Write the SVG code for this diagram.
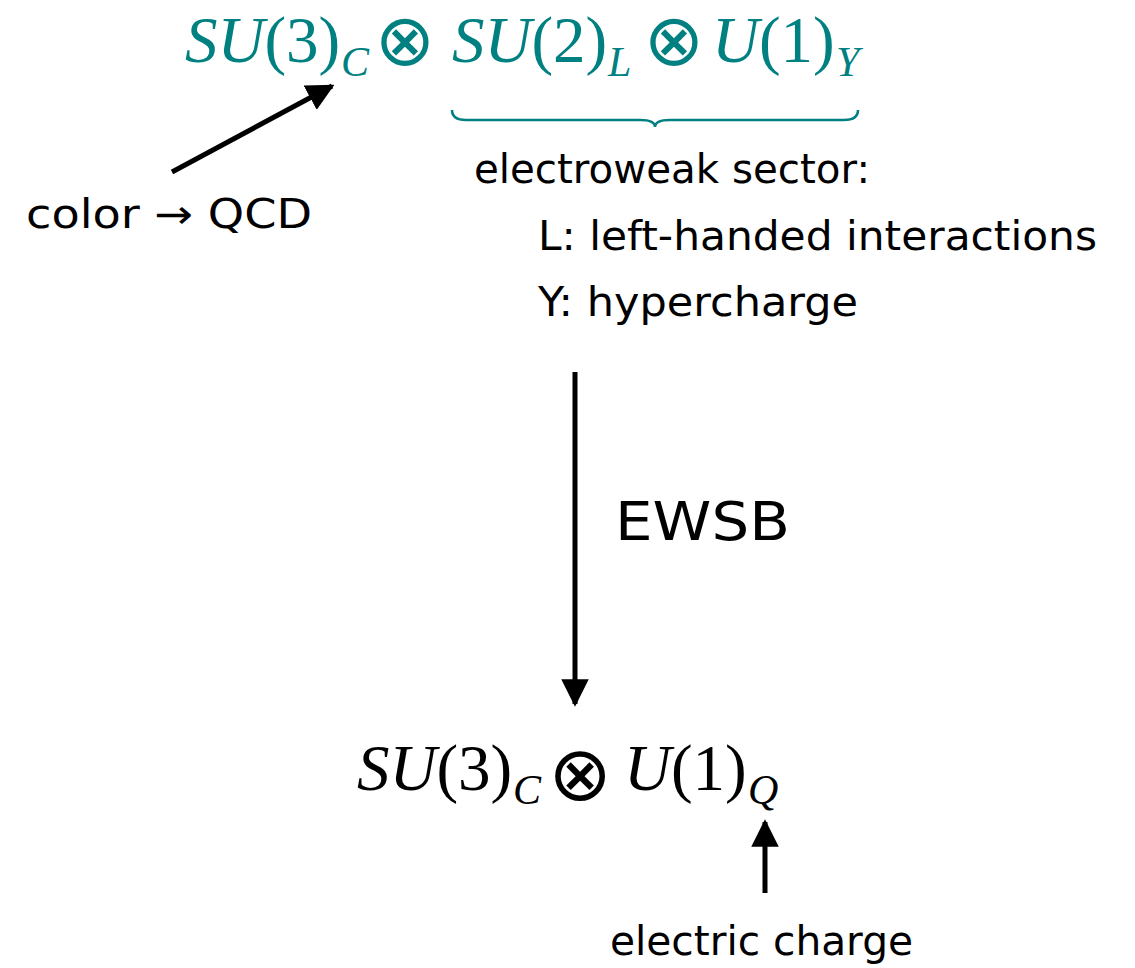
<svg xmlns="http://www.w3.org/2000/svg" width="1135" height="968" viewBox="0 0 1135 968">
<style>
.m{font-family:"Liberation Serif","Times New Roman",serif;}
.i{font-style:italic;}
.o{font-family:"DejaVu Sans",sans-serif;text-anchor:middle;}
.teal{fill:#008080;}
.blk{fill:#000;}
.s{font-family:"DejaVu Sans","Liberation Sans",sans-serif;fill:#000;}
.ln{stroke:#000;stroke-width:5;fill:none;}
</style>
<defs>
<marker id="ah" viewBox="0 0 10 10" refX="9" refY="5" markerWidth="5.5" markerHeight="5.5" markerUnits="strokeWidth" orient="auto">
<path d="M0,0 L10,5 L0,10 z" fill="#000"/>
</marker>
</defs>
<g id="top-formula" class="m teal">
<text x="185" y="62" font-size="65"><tspan class="i">SU</tspan>(3)</text>
<text x="341" y="76" font-size="42" class="i">C</text>
<text class="o" x="405" y="65" font-size="72">⊗</text>
<text x="452" y="62" font-size="65"><tspan class="i">SU</tspan>(2)</text>
<text x="608" y="76" font-size="42" class="i">L</text>
<text class="o" x="674" y="65" font-size="72">⊗</text>
<text x="712" y="62" font-size="65"><tspan class="i">U</tspan>(1)</text>
<text x="836" y="76" font-size="42" class="i">Y</text>
</g>
<g id="brace">
<path d="M452,110 Q452,120 466,120 L640,120 Q655,120 655,127 Q655,120 670,120 L844,120 Q858,120 858,110" stroke="#008080" stroke-width="2.5" fill="none"/>
</g>
<g id="color-label">
<text class="s" x="26" y="228" font-size="40" textLength="286" lengthAdjust="spacingAndGlyphs">color → QCD</text>
</g>
<g id="ew-label">
<text class="s" x="474" y="183" font-size="40" textLength="396" lengthAdjust="spacingAndGlyphs">electroweak sector:</text>
<text class="s" x="538" y="250" font-size="40" textLength="559" lengthAdjust="spacingAndGlyphs">L: left-handed interactions</text>
<text class="s" x="538" y="316" font-size="40" textLength="320" lengthAdjust="spacingAndGlyphs">Y: hypercharge</text>
</g>
<g id="ewsb-label">
<text class="s" x="615" y="540" font-size="54" textLength="175" lengthAdjust="spacingAndGlyphs">EWSB</text>
</g>
<g id="bottom-formula" class="m blk">
<text x="357" y="790" font-size="65"><tspan class="i">SU</tspan>(3)</text>
<text x="513" y="804" font-size="42" class="i">C</text>
<text class="o" x="580" y="800" font-size="76">⊗</text>
<text x="624" y="790" font-size="65"><tspan class="i">U</tspan>(1)</text>
<text x="748" y="804" font-size="42" class="i">Q</text>
</g>
<g id="charge-label">
<text class="s" x="610" y="955" font-size="40" textLength="303" lengthAdjust="spacingAndGlyphs">electric charge</text>
</g>
<g id="connectors">
<line class="ln" x1="172" y1="172" x2="332" y2="86" marker-end="url(#ah)"/>
<line class="ln" x1="575" y1="372" x2="575" y2="704" marker-end="url(#ah)"/>
<line class="ln" x1="765" y1="893" x2="765" y2="822" marker-end="url(#ah)"/>
</g>
</svg>
